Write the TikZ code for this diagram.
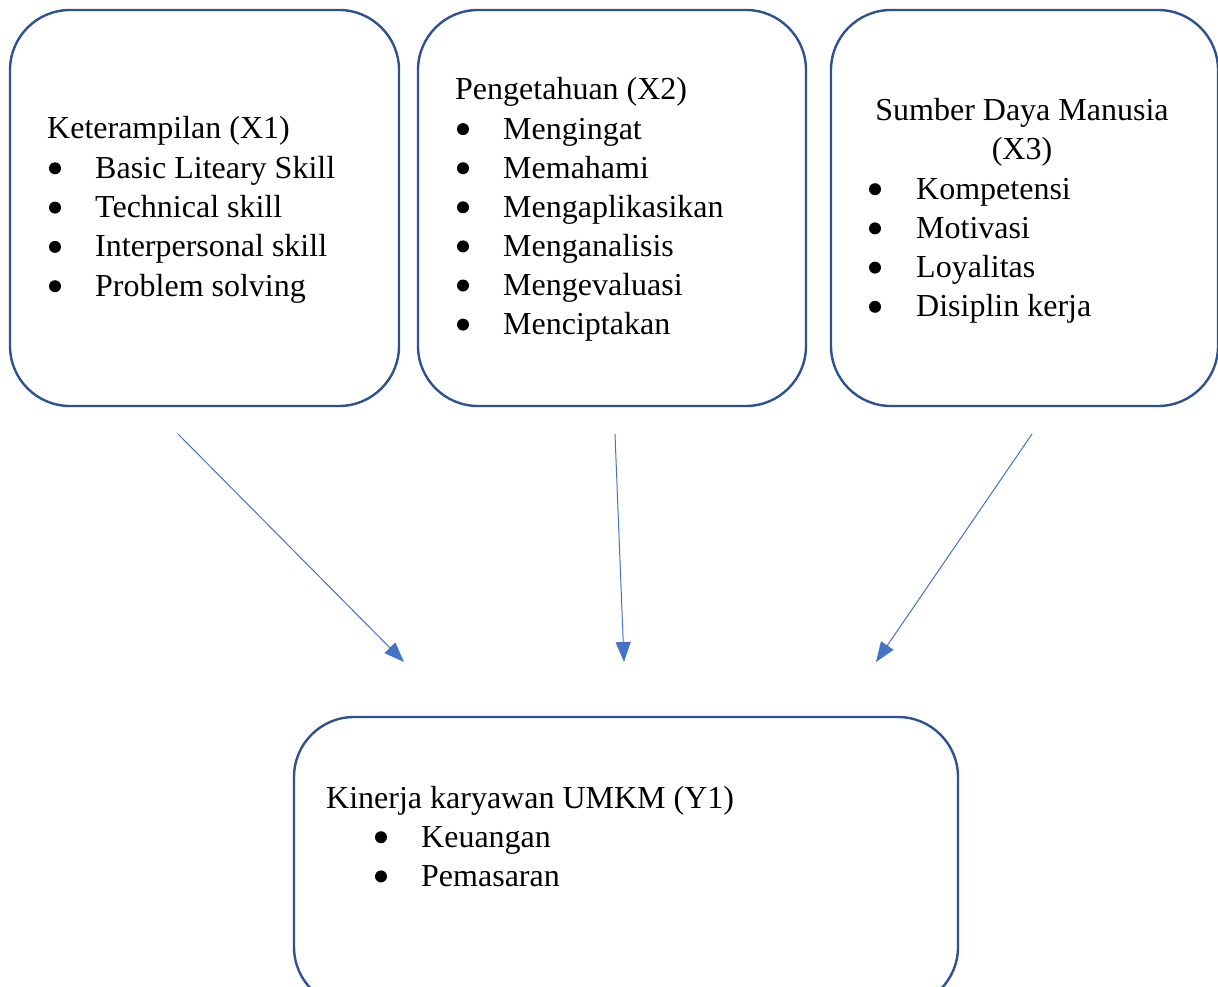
\documentclass[tikz,border=0pt]{standalone}
\usepackage{fontspec}
\setmainfont{Liberation Serif}
\usetikzlibrary{arrows.meta}

\definecolor{garisbox}{HTML}{2F528F}
\definecolor{garispanah}{HTML}{4472C4}

\begin{document}
\begin{tikzpicture}[x=1pt,y=-1pt,
  kotak/.style={draw=garisbox,line width=2.4pt,rounded corners=60pt,inner sep=0pt},
  teks/.style={anchor=base west,inner sep=0pt,font=\fontsize{32}{39}\selectfont},
  judul/.style={anchor=base,inner sep=0pt,font=\fontsize{32}{39}\selectfont},
  titik/.style={circle,fill=black,inner sep=0pt,minimum size=12pt},
  panah/.style={draw=garispanah,line width=1pt,-{Triangle[length=20pt,width=15pt]}}]
  \clip (0,0) rectangle (1218,987);
  % kotak variabel
  \node[kotak,minimum width=389pt,minimum height=396pt] (x1) at (204.5,208) {};
  \node[kotak,minimum width=388pt,minimum height=396pt] (x2) at (612,208) {};
  \node[kotak,minimum width=387pt,minimum height=396pt] (x3) at (1024.5,208) {};
  \node[kotak,minimum width=664pt,minimum height=290pt] (y1) at (626,862) {};
  % Keterampilan (X1)
  \node[teks] (x1h) at (47,139) {Keterampilan (X1)};
  \foreach \t [count=\i] in {Basic Liteary Skill,Technical skill,Interpersonal skill,Problem solving}{
    \node[titik] (x1b\i) at (55,139+39.3*\i-10) {};
    \node[teks] (x1t\i) at (95,139+39.3*\i) {\t};
  }
  % Pengetahuan (X2)
  \node[teks] (x2h) at (455,100) {Pengetahuan (X2)};
  \foreach \t [count=\i] in {Mengingat,Memahami,Mengaplikasikan,Menganalisis,Mengevaluasi,Menciptakan}{
    \node[titik] (x2b\i) at (463,100+39.1*\i-10) {};
    \node[teks] (x2t\i) at (503,100+39.1*\i) {\t};
  }
  % Sumber Daya Manusia (X3)
  \node[judul] (x3h) at (1022,121) {Sumber Daya Manusia};
  \node[judul] (x3h2) at (1022,160) {(X3)};
  \foreach \t [count=\i] in {Kompetensi,Motivasi,Loyalitas,Disiplin kerja}{
    \node[titik] (x3b\i) at (875,160+39.2*\i-10) {};
    \node[teks] (x3t\i) at (916,160+39.2*\i) {\t};
  }
  % Kinerja karyawan UMKM (Y1)
  \node[teks] (y1h) at (326,808) {Kinerja karyawan UMKM (Y1)};
  \foreach \t [count=\i] in {Keuangan,Pemasaran}{
    \node[titik] (y1b\i) at (381,808+39.2*\i-10) {};
    \node[teks] (y1t\i) at (421,808+39.2*\i) {\t};
  }
  % panah
  \coordinate (a1) at (178,434);
  \coordinate (b1) at (404,662);
  \coordinate (a2) at (615,434);
  \coordinate (b2) at (624,662);
  \coordinate (a3) at (1032,434);
  \coordinate (b3) at (876,662);
  \draw[panah] (a1) -- (b1);
  \draw[panah] (a2) -- (b2);
  \draw[panah] (a3) -- (b3);
\end{tikzpicture}
\end{document}
